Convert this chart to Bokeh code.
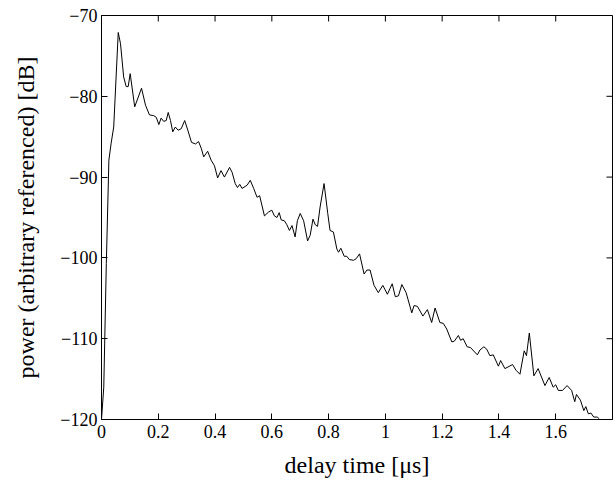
import math
from bokeh.plotting import figure
from bokeh.models import FixedTicker, Range1d
from bokeh.embed import file_html
from bokeh.resources import INLINE

# delay time [us]
delay_us = [
    0.000, 0.008, 0.017, 0.026, 0.034, 0.043, 0.059, 0.067, 0.078, 0.087,
    0.094, 0.101, 0.117, 0.141, 0.155, 0.169, 0.184, 0.193, 0.202, 0.210,
    0.219, 0.228, 0.235, 0.243, 0.251, 0.260, 0.270, 0.281, 0.293, 0.305,
    0.317, 0.331, 0.342, 0.352, 0.360,
    0.374, 0.386, 0.398, 0.409, 0.421, 0.433, 0.451, 0.460, 0.471, 0.479,
    0.487, 0.495, 0.513, 0.524, 0.536, 0.548, 0.557, 0.574, 0.589, 0.600,
    0.609, 0.618, 0.626, 0.633, 0.644, 0.653, 0.662, 0.671, 0.682, 0.690,
    0.700, 0.712, 0.726, 0.735, 0.745, 0.753, 0.761, 0.770, 0.784, 0.797,
    0.805, 0.817, 0.829, 0.835, 0.843, 0.855, 0.864, 0.873, 0.888, 0.897,
    0.909, 0.925, 0.935, 0.946, 0.960, 0.975, 0.991, 1.007, 1.024, 1.035,
    1.046, 1.058, 1.073, 1.093, 1.101, 1.113, 1.132, 1.148, 1.163, 1.175,
    1.192, 1.204, 1.216, 1.234, 1.243, 1.257, 1.265, 1.274, 1.288, 1.300,
    1.324, 1.333, 1.347, 1.357, 1.368, 1.380, 1.398, 1.406, 1.421, 1.448,
    1.460, 1.474, 1.489, 1.497, 1.507, 1.523, 1.538, 1.562, 1.577, 1.591,
    1.600, 1.609, 1.624, 1.640, 1.656, 1.667, 1.673, 1.687, 1.699, 1.706,
    1.715, 1.724, 1.734, 1.746, 1.753,
]

# power (arbitrary referenced) [dB]
power_db = [
    -120.0, -116.0, -100.7, -87.9, -85.8, -83.8, -72.1, -73.5, -77.6, -78.8,
    -78.8, -77.2, -81.3, -79.0, -81.1, -82.3, -82.4, -82.6, -83.5, -82.7,
    -83.1, -83.0, -82.0, -83.0, -84.4, -83.8, -84.2, -84.0, -83.0, -84.3,
    -85.7, -85.9, -85.6, -86.5, -87.5,
    -86.8, -87.9, -88.6, -90.1, -89.2, -90.0, -88.8, -89.4, -90.8, -91.3,
    -90.9, -91.4, -91.0, -90.4, -91.4, -92.5, -92.3, -94.8, -94.3, -94.1,
    -94.8, -95.0, -94.4, -95.3, -95.4, -95.9, -96.6, -96.0, -97.4, -95.4,
    -94.5, -95.4, -97.9, -97.2, -95.2, -95.9, -96.1, -93.7, -90.8, -94.5,
    -96.6, -96.8, -98.9, -99.3, -98.8, -99.8, -99.8, -100.2, -100.3, -100.1,
    -99.5, -102.0, -101.5, -101.5, -103.4, -104.3, -103.4, -104.5, -103.2, -104.8,
    -104.7, -103.3, -104.3, -106.8, -105.9, -106.0, -107.2, -106.4, -108.0, -106.2,
    -108.0, -108.1, -108.8, -110.4, -110.3, -109.6, -110.2, -110.0, -111.0, -111.1,
    -112.0, -111.4, -111.0, -111.3, -112.1, -112.0, -113.4, -112.7, -113.7, -113.2,
    -113.9, -114.4, -111.5, -112.1, -109.3, -114.6, -113.7, -115.8, -114.8, -116.0,
    -115.7, -116.4, -116.4, -115.8, -116.4, -117.8, -116.9, -117.6, -118.9, -118.4,
    -119.3, -119.2, -119.7, -119.7, -119.9,
]

x_ticks = [0, 0.2, 0.4, 0.6, 0.8, 1.0, 1.2, 1.4, 1.6]
x_tick_labels = ["0", "0.2", "0.4", "0.6", "0.8", "1", "1.2", "1.4", "1.6"]
y_ticks = [-120, -110, -100, -90, -80, -70]
y_tick_labels = ["\u2212120", "\u2212110", "\u2212100", "\u221290", "\u221280", "\u221270"]

x_min, x_max = 0.0, 1.8
y_min, y_max = -120.0, -70.0

FONT = "Liberation Serif"

p = figure(width=614, height=480,
           x_range=Range1d(x_min, x_max), y_range=Range1d(y_min, y_max),
           output_backend="svg", toolbar_location=None,
           min_border_left=101, min_border_right=2,
           min_border_top=15, min_border_bottom=61)

p.line(delay_us, power_db, line_color="black", line_width=1)

# inward ticks on the top and right frame edges
p.ray(x=x_ticks, y=[y_max] * len(x_ticks), length=6, length_units="screen",
      angle=-math.pi / 2, line_color="black", line_width=1)
p.ray(x=[x_max] * len(y_ticks), y=y_ticks, length=6, length_units="screen",
      angle=math.pi, line_color="black", line_width=1)

p.xgrid.visible = False
p.ygrid.visible = False
p.outline_line_color = "black"
p.outline_line_width = 1
p.background_fill_color = "white"
p.border_fill_color = "white"

ax_x = p.xaxis[0]
ax_y = p.yaxis[0]
ax_x.ticker = FixedTicker(ticks=x_ticks)
ax_x.major_label_overrides = dict(zip(x_ticks, x_tick_labels))
ax_y.ticker = FixedTicker(ticks=y_ticks)
ax_y.major_label_overrides = dict(zip(y_ticks, y_tick_labels))

for ax in (ax_x, ax_y):
    ax.major_tick_in = 6
    ax.major_tick_out = 0
    ax.minor_tick_in = 0
    ax.minor_tick_out = 0
    ax.major_tick_line_color = "black"
    ax.axis_line_color = "black"
    ax.major_label_text_font = FONT
    ax.major_label_text_font_size = "18px"
    ax.major_label_text_color = "black"
    ax.major_label_standoff = 5
    ax.axis_label_text_font = FONT
    ax.axis_label_text_font_size = "24px"
    ax.axis_label_text_font_style = "normal"
    ax.axis_label_text_color = "black"

ax_y.major_label_standoff = 4

ax_x.axis_label = "delay time [\u03bcs]"
ax_x.axis_label_standoff = 11

ax_y.axis_label = "power (arbitrary referenced) [dB]"
ax_y.axis_label_standoff = 18

open("out.html", "w").write(file_html(p, INLINE))
